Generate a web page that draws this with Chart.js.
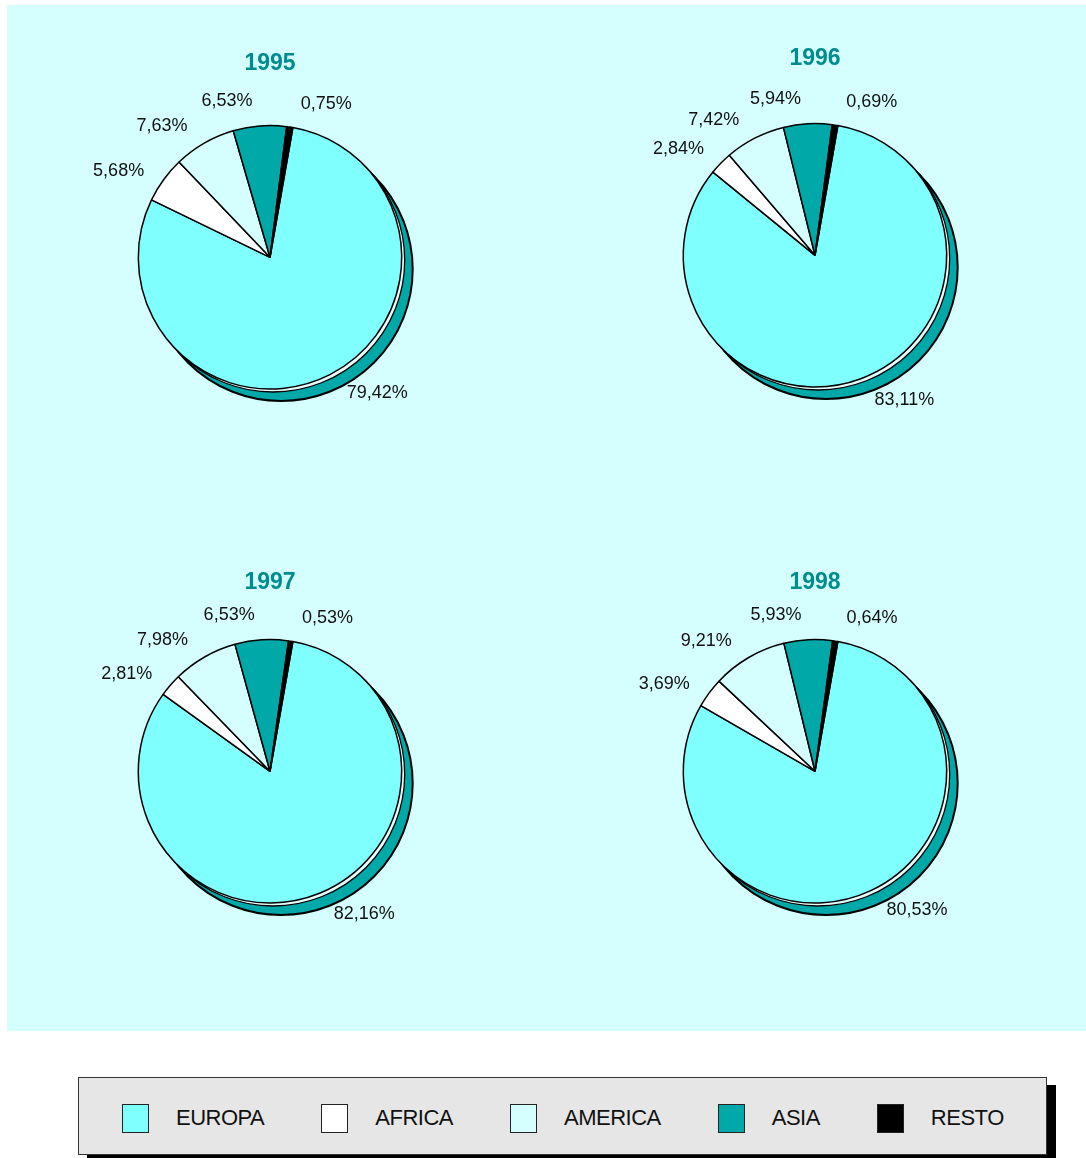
<!DOCTYPE html>
<html>
<head>
<meta charset="utf-8">
<script src="https://cdn.jsdelivr.net/npm/chart.js@4/dist/chart.umd.min.js"></script>
<style>
html,body{margin:0;padding:0;background:#fff;width:1086px;height:1158px;overflow:hidden;font-family:"Liberation Sans",Arial,sans-serif;}
#bg{position:absolute;left:7px;top:5px;width:1079px;height:1026px;background:#D5FFFF;}
canvas{position:absolute;}
#legend{position:absolute;left:78px;top:1077px;width:969px;height:78px;box-sizing:border-box;background:#E6E6E6;border:1px solid #333;box-shadow:9px 8px 0 #000;display:flex;align-items:center;padding-left:43px;padding-top:4px;}
.item{display:flex;align-items:center;margin-right:57px;}
.sw{width:27px;height:29px;box-sizing:border-box;border:1.5px solid #222;margin-right:27px;}
.lab{font-size:22px;letter-spacing:-0.5px;color:#111;}
</style>
</head>
<body>
<div id="bg"></div>
<canvas id="c0" width="400" height="400" style="left:70px;top:42px"></canvas>
<canvas id="c1" width="400" height="400" style="left:615px;top:40px"></canvas>
<canvas id="c2" width="400" height="400" style="left:70px;top:556px"></canvas>
<canvas id="c3" width="400" height="400" style="left:615px;top:556px"></canvas>
<div id="legend"></div>
<script>
// ---- data ----
const categories = ['EUROPA', 'AFRICA', 'AMERICA', 'ASIA', 'RESTO'];
const years = ['1995', '1996', '1997', '1998'];
const values1995 = [79.42, 5.68, 7.63, 6.53, 0.75];
const values1996 = [83.11, 2.84, 7.42, 5.94, 0.69];
const values1997 = [82.16, 2.81, 7.98, 6.53, 0.53];
const values1998 = [80.53, 3.69, 9.21, 5.93, 0.64];
const seriesByYear = [values1995, values1996, values1997, values1998];

// ---- styles ----
const sliceColors = ['#80FFFF', '#FFFFFF', '#D5FFFF', '#00A8A8', '#000000'];
const labelAngleShift = [-11.3, -6.5, -9.5, -11, 11.5]; // degrees, label spread like the original
const titleShiftY = [0, -3, 5, 5];
const FONT = '"Liberation Sans", Arial, sans-serif';

Chart.defaults.font.family = FONT;

const shadowPlugin = {
  id: 'pieShadow',
  beforeDatasetsDraw(chart) {
    const arc = chart.getDatasetMeta(0).data[0];
    if (!arc) return;
    const p = arc.getProps(['x', 'y', 'outerRadius'], true);
    const ctx = chart.ctx;
    ctx.save();
    ctx.beginPath();
    ctx.arc(p.x + 11, p.y + 12, p.outerRadius, 0, Math.PI * 2);
    ctx.fillStyle = '#00A8A8';
    ctx.fill();
    ctx.lineWidth = 2;
    ctx.strokeStyle = '#000';
    ctx.stroke();
    ctx.beginPath();
    ctx.arc(p.x + 3, p.y + 3, p.outerRadius, 0, Math.PI * 2);
    ctx.fillStyle = '#E8FFFF';
    ctx.fill();
    ctx.lineWidth = 1.3;
    ctx.stroke();
    ctx.restore();
  }
};

const labelPlugin = {
  id: 'pctLabels',
  afterDatasetsDraw(chart) {
    const ctx = chart.ctx;
    const meta = chart.getDatasetMeta(0);
    const data = chart.data.datasets[0].data;
    ctx.save();
    ctx.font = '18px ' + FONT;
    ctx.fillStyle = '#111';
    ctx.textAlign = 'center';
    ctx.textBaseline = 'middle';
    meta.data.forEach((arc, i) => {
      const p = arc.getProps(['x', 'y', 'startAngle', 'endAngle', 'outerRadius'], true);
      const a = (p.startAngle + p.endAngle) / 2 + labelAngleShift[i] * Math.PI / 180;
      const ux = Math.cos(a), uy = Math.sin(a);
      const txt = data[i].toFixed(2).replace('.', ',') + '%';
      const w = ctx.measureText(txt).width, h = 13;
      const d = p.outerRadius + 17 + Math.abs(ux) * w / 2 + Math.abs(uy) * h / 2;
      ctx.fillText(txt, p.x + d * ux, p.y + d * uy);
    });
    ctx.restore();
  }
};

years.forEach((yr, k) => {
  new Chart(document.getElementById('c' + k), {
    type: 'pie',
    data: {
      labels: categories,
      datasets: [{
        data: seriesByYear[k],
        backgroundColor: sliceColors,
        borderColor: '#000',
        borderWidth: 1.5,
        hoverBorderWidth: 1.5,
        hoverOffset: 0
      }]
    },
    options: {
      responsive: false,
      animation: false,
      events: [],
      devicePixelRatio: 1,
      rotation: 10,
      layout: { padding: { left: 67.25, right: 67.25, top: 0, bottom: 52.25 } },
      plugins: {
        legend: { display: false },
        tooltip: { enabled: false },
        title: {
          display: true,
          text: yr,
          color: '#008C8C',
          font: { family: FONT, size: 23, weight: 'bold', lineHeight: 1.2 },
          padding: { top: 8 + titleShiftY[k], bottom: 47.25 - titleShiftY[k] }
        }
      }
    },
    plugins: [shadowPlugin, labelPlugin]
  });
});

// shared legend
const legend = document.getElementById('legend');
categories.forEach((c, i) => {
  const item = document.createElement('div');
  item.className = 'item';
  const sw = document.createElement('div');
  sw.className = 'sw';
  sw.style.background = sliceColors[i];
  const lab = document.createElement('span');
  lab.className = 'lab';
  lab.textContent = c;
  item.appendChild(sw);
  item.appendChild(lab);
  legend.appendChild(item);
});
</script>
</body>
</html>
